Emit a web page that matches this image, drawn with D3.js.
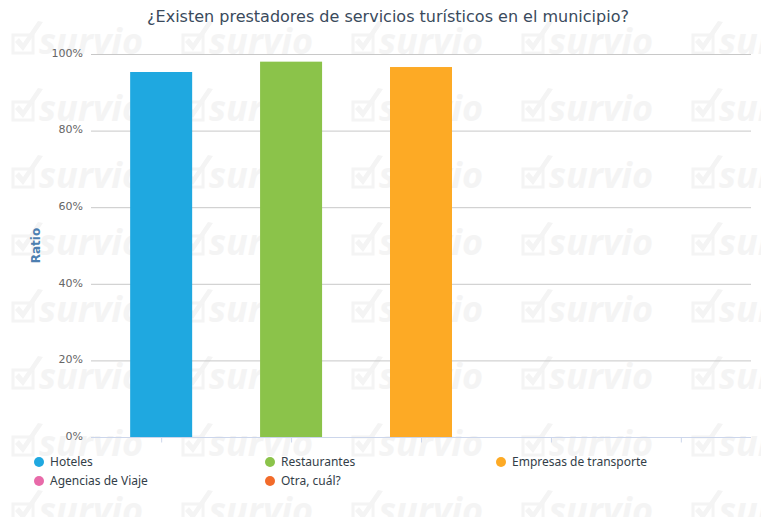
<!DOCTYPE html>
<html>
<head>
<meta charset="utf-8">
<script src="https://cdn.jsdelivr.net/npm/d3@7"></script>
<style>
  body { margin: 0; background: #fff; }
  svg { display: block; }
</style>
</head>
<body>
<script>
// data
const categories = ['Hoteles', 'Restaurantes', 'Empresas de transporte', 'Agencias de Viaje', 'Otra, cuál?'];
const values = [0.953, 0.980, 0.966, 0, 0];
const colors = ['#1fa8e0', '#8bc34a', '#fdaa25', '#e86aa9', '#f26b2a'];
const yTicks = [0, 0.2, 0.4, 0.6, 0.8, 1];

const W = 761, H = 517;
const plot = { left: 91, right: 751, top: 54, bottom: 437 };

const svg = d3.select('body').append('svg')
    .attr('width', W)
    .attr('height', H);

// watermark
const wmColor = '#f4f4f4';
const wm = svg.append('g').attr('fill', wmColor);
for (let r = 0; r < 8; r++) {
    for (let c = 0; c < 5; c++) {
        const wx = 12 + c * 170, wy = 54 + r * 67;
        const t = wm.append('g').attr('transform', 'translate(' + wx + ',' + wy + ')');
        t.append('rect').attr('x', 1).attr('y', -19).attr('width', 20).attr('height', 18)
            .attr('fill', 'none').attr('stroke', wmColor).attr('stroke-width', 3);
        t.append('path').attr('d', 'M3,-12 L11,-3 L31,-32 L26,-33 L11,-11 L7,-16 Z');
        t.append('text')
            .attr('x', 27)
            .attr('font-family', 'Open Sans')
            .attr('font-size', '36px')
            .attr('font-weight', 'bold')
            .attr('font-style', 'italic')
            .text('survio');
    }
}

// scales
const x = d3.scalePoint()
    .domain(categories)
    .range([plot.left, plot.right])
    .padding(0.54);

const y = d3.scaleLinear()
    .domain([0, 1])
    .range([plot.bottom, plot.top]);

// grid
svg.append('g')
    .selectAll('line')
    .data(yTicks.slice(1))
    .enter()
    .append('line')
        .attr('x1', plot.left)
        .attr('x2', plot.right)
        .attr('y1', d => y(d) + 0.5)
        .attr('y2', d => y(d) + 0.5)
        .attr('stroke', '#c8c8c8');

// y axis labels
const yAxis = d3.axisLeft(y)
    .tickValues(yTicks)
    .tickFormat(d => Math.round(d * 100) + '%')
    .tickSize(0)
    .tickPadding(8);
const ya = svg.append('g')
    .attr('transform', 'translate(' + plot.left + ',0)')
    .call(yAxis);
ya.select('.domain').remove();
ya.selectAll('text')
    .attr('font-family', 'DejaVu Sans')
    .attr('font-size', '11px')
    .attr('fill', '#666666')
    .attr('dy', '0.2em');

// bars
const barW = 62;
svg.append('g')
    .selectAll('rect')
    .data(categories)
    .enter()
    .append('rect')
        .attr('x', d => x(d) - barW / 2)
        .attr('y', (d, i) => y(values[i]))
        .attr('width', barW)
        .attr('height', (d, i) => plot.bottom - y(values[i]))
        .attr('fill', (d, i) => colors[i]);

// x axis
const xAxis = d3.axisBottom(x).tickSize(5).tickFormat('');
const xa = svg.append('g')
    .attr('transform', 'translate(0,' + (plot.bottom + 0.5) + ')')
    .call(xAxis);
xa.select('.domain').attr('stroke', '#ccd6eb').attr('d', 'M' + plot.left + ',0H' + plot.right);
xa.selectAll('.tick line').attr('stroke', '#ccd6eb');

// y axis title
svg.append('text')
    .attr('transform', 'translate(40,' + ((plot.top + plot.bottom) / 2) + ') rotate(-90)')
    .attr('text-anchor', 'middle')
    .attr('font-family', 'DejaVu Sans')
    .attr('font-size', '12px')
    .attr('font-weight', 'bold')
    .attr('fill', '#4d7fb0')
    .text('Ratio');

// title
svg.append('text')
    .attr('x', 388)
    .attr('y', 22)
    .attr('text-anchor', 'middle')
    .attr('font-family', 'DejaVu Sans')
    .attr('font-size', '16px')
    .attr('fill', '#3a4a5c')
    .text('¿Existen prestadores de servicios turísticos en el municipio?');

// legend
const legend = svg.append('g')
    .selectAll('g')
    .data(categories)
    .enter()
    .append('g')
        .attr('transform', (d, i) => 'translate(' + (39 + (i % 3) * 231) + ',' + (462 + Math.floor(i / 3) * 19) + ')');
legend.append('circle')
    .attr('r', 5)
    .attr('fill', (d, i) => colors[i]);
legend.append('text')
    .attr('x', 11)
    .attr('dy', '0.35em')
    .attr('font-family', 'Noto Sans')
    .attr('font-size', '12px')
    .attr('fill', '#333e48')
    .text(d => d);
</script>
</body>
</html>
